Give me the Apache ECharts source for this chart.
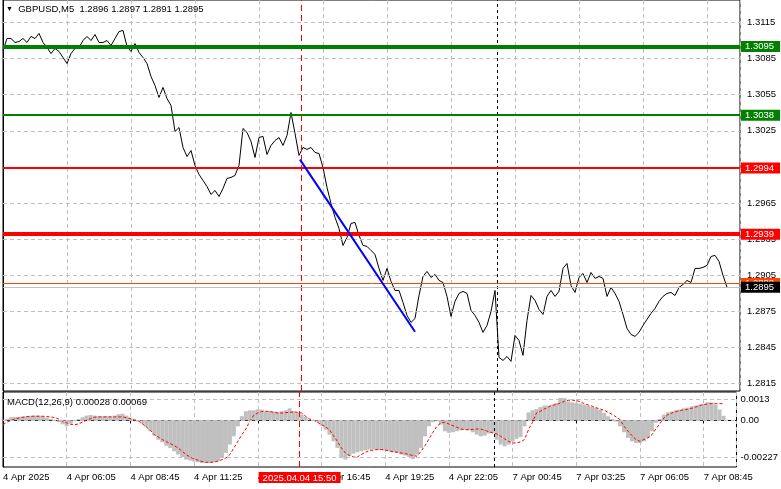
<!DOCTYPE html>
<html><head><meta charset="utf-8">
<script src="https://cdn.jsdelivr.net/npm/echarts@6/dist/echarts.min.js"></script>
<style>html,body{margin:0;padding:0;background:#fff}#c{width:781px;height:489px}</style>
</head><body><div id="c"></div>
<script>
const symbolTitle = 'GBPUSD,M5';
const ohlc = ['1.2896', '1.2897', '1.2891', '1.2895'];
const macdTitle = 'MACD(12,26,9)';
const macdLast = ['0.00028', '0.00069'];
const timeTickLabels = ['4 Apr 2025', '4 Apr 06:05', '4 Apr 08:45', '4 Apr 11:25', '4 Apr 14:05', '4 Apr 16:45',
  '4 Apr 19:25', '4 Apr 22:05', '7 Apr 00:45', '7 Apr 03:25', '7 Apr 06:05', '7 Apr 08:45'];
const barsPerTick = 32;
const barsPerSample = 2;
const closes = [
1.30917,1.31017,1.31017,1.30984,1.30992,1.31017,1.30984,1.31034,1.31017,1.31059,
1.30984,1.30942,1.30892,1.30934,1.30909,1.30859,1.30809,1.30892,1.30934,1.30942,
1.31000,1.31034,1.31000,1.31050,1.30984,1.30984,1.31000,1.30959,1.31017,1.31075,
1.31084,1.30951,1.30909,1.30975,1.30901,1.30859,1.30809,1.30701,1.30626,1.30527,
1.30610,1.30518,1.30460,1.30244,1.30277,1.30111,1.30036,1.30086,1.29962,1.29887,
1.29837,1.29787,1.29721,1.29754,1.29704,1.29770,1.29854,1.29862,1.29879,1.29962,
1.30269,1.30236,1.30161,1.30028,1.30194,1.30203,1.30053,1.30128,1.30169,1.30194,
1.30128,1.30211,1.30402,1.30228,1.30045,1.30111,1.30095,1.30111,1.30070,1.30061,
1.29945,1.29779,1.29646,1.29530,1.29438,1.29297,1.29363,1.29480,1.29488,1.29380,
1.29297,1.29289,1.29255,1.29222,1.29106,1.29006,1.29106,1.28998,1.28923,1.28923,
1.28823,1.28715,1.28657,1.28690,1.28881,1.29039,1.29081,1.29031,1.29056,1.29006,
1.28989,1.28873,1.28707,1.28832,1.28898,1.28915,1.28898,1.28757,1.28715,1.28657,
1.28574,1.28632,1.28748,1.28923,1.28366,1.28341,1.28374,1.28333,1.28549,1.28507,
1.28383,1.28674,1.28881,1.28840,1.28765,1.28723,1.28873,1.28923,1.28873,1.28915,
1.29106,1.29147,1.28964,1.28906,1.29031,1.29064,1.28989,1.29072,1.29023,1.29039,
1.29023,1.28873,1.28948,1.28898,1.28832,1.28723,1.28607,1.28557,1.28541,1.28574,
1.28632,1.28682,1.28732,1.28773,1.28832,1.28873,1.28898,1.28906,1.28881,1.28948,
1.28973,1.29006,1.28989,1.29106,1.29106,1.29114,1.29131,1.29205,1.29214,1.29164,
1.29048,1.28950];
const macdHist = [
0.00004,0.00008,0.00019,0.00021,0.00021,0.00023,0.00025,0.00027,0.00029,0.00029,
0.00025,0.00016,0.00008,0,-0.00012,-0.00025,-0.00037,-0.00021,-0.00006,0.00008,
0.00019,0.00029,0.00033,0.00029,0.00025,0.00025,0.00025,0.00025,0.00029,0.00037,
0.00041,0.00029,0.00014,0.00004,-0.00008,-0.00021,-0.00041,-0.00068,-0.00095,-0.0012,
-0.00136,-0.00157,-0.00171,-0.00192,-0.00212,-0.00227,-0.00243,-0.00249,-0.00255,-0.0026,
-0.00264,-0.00264,-0.00264,-0.0026,-0.00253,-0.00233,-0.00202,-0.0015,-0.00099,-0.00037,
0.00025,0.00056,0.00062,0.00062,0.00068,0.00066,0.00056,0.00058,0.00054,0.00052,
0.00056,0.00062,0.00074,0.00056,0.00045,0.00035,0.00021,0.00004,-0.00004,-0.00012,
-0.00033,-0.00058,-0.00089,-0.0013,-0.00171,-0.00233,-0.00243,-0.00222,-0.00206,-0.00198,
-0.00192,-0.00185,-0.00181,-0.00181,-0.00185,-0.00185,-0.00187,-0.00192,-0.00198,-0.00202,
-0.00212,-0.00218,-0.00227,-0.00239,-0.00212,-0.00171,-0.00099,-0.00037,-0.00012,-0.00006,
-0.00027,-0.00068,-0.00078,-0.00074,-0.00068,-0.00062,-0.00058,-0.00062,-0.00074,-0.00089,
-0.00099,-0.00095,-0.00082,-0.00078,-0.0012,-0.0015,-0.00161,-0.0015,-0.0013,-0.00115,
-0.00103,-0.00037,0.00049,0.00062,0.0007,0.00082,0.00091,0.00091,0.00097,0.00107,
0.00138,0.00138,0.00117,0.00111,0.00107,0.00103,0.00097,0.00091,0.00082,0.00076,
0.00066,0.00045,0.00025,0.00008,-0.00008,-0.00037,-0.00074,-0.00109,-0.0013,-0.0014,
-0.0014,-0.0013,-0.00109,-0.00068,-0.00016,0.00008,0.00035,0.00049,0.00054,0.00062,
0.00066,0.00074,0.00078,0.00087,0.00091,0.00097,0.00103,0.00111,0.00111,0.00097,
0.00066,0.00028];
const macdSignal = [
-0.00027,-0.00012,0,0.00008,0.00014,0.00019,0.00023,0.00025,0.00025,0.00025,
0.00025,0.00023,0.00021,0.00016,0.00008,-0.00006,-0.00016,-0.00025,-0.00027,-0.00023,
-0.0001,0,0.0001,0.00019,0.00021,0.00021,0.00021,0.00021,0.00021,0.00021,
0.00021,0.00016,0.0001,0.00002,-0.00004,-0.00021,-0.00041,-0.00062,-0.00089,-0.00103,
-0.00119,-0.00132,-0.00144,-0.00157,-0.00171,-0.00192,-0.00212,-0.00227,-0.00239,-0.00247,
-0.00255,-0.0026,-0.0026,-0.00258,-0.00253,-0.00243,-0.00233,-0.00212,-0.00171,-0.0013,
-0.00089,-0.00054,-0.00006,0.00031,0.00045,0.00054,0.00056,0.00054,0.00049,0.00045,
0.00045,0.00047,0.00049,0.00052,0.00049,0.00045,0.00025,0.00008,0,-0.00012,
-0.00027,-0.00041,-0.00058,-0.00095,-0.0013,-0.00171,-0.00202,-0.00218,-0.00227,-0.00227,
-0.00212,-0.00198,-0.00187,-0.00185,-0.00181,-0.00181,-0.00183,-0.0019,-0.00194,-0.00198,
-0.00202,-0.00206,-0.00212,-0.00218,-0.00222,-0.00192,-0.00157,-0.00115,-0.00074,-0.00037,
-0.00016,-0.00012,-0.00023,-0.00033,-0.00043,-0.00054,-0.00058,-0.00058,-0.00056,-0.00054,
-0.00054,-0.00062,-0.0007,-0.00078,-0.00084,-0.00099,-0.00115,-0.0013,-0.0014,-0.0014,
-0.00134,-0.00119,-0.00058,-0.00012,0.00045,0.00056,0.0007,0.00082,0.00093,0.00097,
0.00107,0.00117,0.00124,0.00124,0.00122,0.00115,0.00103,0.00095,0.00087,0.00078,
0.0007,0.00062,0.00049,0.00037,0.00021,0.00004,-0.00037,-0.00068,-0.00095,-0.00119,
-0.0013,-0.00119,-0.00109,-0.00089,-0.00054,-0.00021,0.00014,0.00035,0.00045,0.00054,
0.0006,0.00064,0.00068,0.00074,0.00082,0.00091,0.00097,0.00101,0.00103,0.00103,
0.00103,0.00103];
const priceTicks = [1.2815, 1.2845, 1.2875, 1.2905, 1.2935, 1.2965, 1.2995, 1.3025, 1.3055, 1.3085, 1.3115];
const macdTicks = [0.0013, 0, -0.00227];
const macdTickLabels = ['0.0013', '0.00', '-0.00227'];
const supportGreen = [1.3095, 1.3038];
const levelsRed = [1.2994, 1.2939];
const askPrice = 1.2898;
const bidPrice = 1.2895;
const trendFrom = [148.5, 1.3001];
const trendTo = [206, 1.2858];
const crosshairBar = 149;
const crosshairText = '2025.04.04 15:50';
const separatorBar = 247;

const FONT = 'Liberation Sans, Arial, sans-serif';
const FS = 9.5;
const pricePts = closes.map((v, k) => [k * barsPerSample, v]);
const histPts = macdHist.map((v, k) => [k * barsPerSample, v]);
const sigPts = macdSignal.map((v, k) => [k * barsPerSample, v]);
const X_MAX = 368.5;
const GRID_DASH = [4, 3];

function boxLabel(text, bg) {
  return { show: true, position: 'end', distance: 1, formatter: text, color: '#fff', backgroundColor: bg,
    padding: [1, 6, 0, 4], fontSize: FS, lineHeight: 10, fontFamily: FONT };
}
function hLevel(v, color, width) {
  return { yAxis: v, lineStyle: { color: color, width: width, type: 'solid' }, label: boxLabel(v.toFixed(4), color) };
}

const xCommon = {
  type: 'value', min: 0, max: X_MAX, interval: barsPerTick,
  splitLine: { show: true, lineStyle: { color: '#c0c0c0', type: GRID_DASH, width: 1 } }
};
const mlBase = { silent: true, animation: false, symbol: ['none', 'none'], precision: 6 };

const option = {
  animation: false,
  backgroundColor: '#fff',
  title: [
    { text: '{t|▼}  ' + symbolTitle + '  ' + ohlc.join(' '), left: 6, top: 4, padding: 0,
      textStyle: { fontSize: FS, fontWeight: 'normal', color: '#000', fontFamily: FONT,
        rich: { t: { fontSize: 7, color: '#000' } } } },
    { text: macdTitle + ' ' + macdLast.join(' '), left: 7, top: 397, padding: 0,
      textStyle: { fontSize: FS, fontWeight: 'normal', color: '#000', fontFamily: FONT } }
  ],
  grid: [
    { left: 3, right: 41, top: 0, height: 391, show: true, borderColor: '#000', borderWidth: 1, backgroundColor: 'transparent' },
    { left: 3, right: 41, top: 392, height: 75, show: true, borderColor: '#000', borderWidth: 1, backgroundColor: 'transparent' }
  ],
  xAxis: [
    Object.assign({}, xCommon, { gridIndex: 0, axisLine: { show: false }, axisTick: { show: false }, axisLabel: { show: false } }),
    Object.assign({}, xCommon, { gridIndex: 1,
      axisLine: { show: true, lineStyle: { color: '#000' } },
      axisTick: { show: true, length: 3, lineStyle: { color: '#000' } },
      axisLabel: { show: true, margin: 5, align: 'left', fontSize: FS, color: '#000', fontFamily: FONT,
        showMaxLabel: false,
        formatter: v => (v % barsPerTick === 0 && timeTickLabels[v / barsPerTick]) ? timeTickLabels[v / barsPerTick] : '' } })
  ],
  yAxis: [
    { type: 'value', gridIndex: 0, position: 'right', min: 1.28087, max: 1.31337, scale: true,
      axisLine: { show: true, lineStyle: { color: '#000' } },
      axisTick: { show: true, length: 3, customValues: priceTicks, lineStyle: { color: '#000' } },
      axisLabel: { show: true, margin: 7, customValues: priceTicks, formatter: v => v.toFixed(4),
        fontSize: FS, color: '#000', fontFamily: FONT },
      splitLine: { show: false } },
    { type: 'value', gridIndex: 1, position: 'right', min: -0.00289, max: 0.00175,
      axisLine: { show: true, lineStyle: { color: '#000' } },
      axisTick: { show: true, length: 3, customValues: macdTicks, lineStyle: { color: '#000' } },
      axisLabel: { show: true, margin: 4, customValues: macdTicks,
        formatter: v => { const k = macdTicks.findIndex(t => Math.abs(t - v) < 1e-9); return k >= 0 ? macdTickLabels[k] : ''; },
        fontSize: FS, color: '#000', fontFamily: FONT },
      splitLine: { show: false } }
  ],
  series: [
    { type: 'line', name: 'grid-main', xAxisIndex: 0, yAxisIndex: 0, data: [], silent: true, z: 1,
      markLine: Object.assign({}, mlBase, { label: { show: false },
        lineStyle: { color: '#c0c0c0', type: GRID_DASH, width: 1 },
        data: priceTicks.map(v => ({ yAxis: v })) }) },
    { type: 'line', name: 'grid-macd', xAxisIndex: 1, yAxisIndex: 1, data: [], silent: true, z: 1,
      markLine: Object.assign({}, mlBase, { label: { show: false },
        lineStyle: { color: '#c0c0c0', type: GRID_DASH, width: 1 },
        data: macdTicks.map(v => ({ yAxis: v })) }) },
    { type: 'line', name: symbolTitle, xAxisIndex: 0, yAxisIndex: 0, data: pricePts, showSymbol: false, silent: true, z: 3,
      lineStyle: { color: '#000', width: 1 },
      markLine: Object.assign({}, mlBase, {
        data: [
          { xAxis: crosshairBar, lineStyle: { color: '#ff0000', type: [6, 4], width: 1 }, label: { show: false } },
          { xAxis: separatorBar, lineStyle: { color: '#000', type: [3, 3], width: 1 }, label: { show: false } },
          hLevel(supportGreen[0], '#008000', 4),
          hLevel(supportGreen[1], '#008000', 2),
          hLevel(levelsRed[0], '#ff0000', 2),
          hLevel(levelsRed[1], '#ff0000', 4),
          { yAxis: askPrice, lineStyle: { color: '#ff4500', width: 1, type: 'solid' }, label: boxLabel(askPrice.toFixed(4), '#ff4500') },
          { yAxis: bidPrice, lineStyle: { color: '#c0c0c0', width: 1, type: 'solid' }, label: boxLabel(bidPrice.toFixed(4), '#000') },
          [ { coord: trendFrom, lineStyle: { color: '#0000ff', width: 2, type: 'solid' }, label: { show: false } }, { coord: trendTo } ]
        ] }) },
    { type: 'bar', name: 'MACD', xAxisIndex: 1, yAxisIndex: 1, data: histPts, barWidth: 4, silent: true, z: 2,
      itemStyle: { color: '#c0c0c0' } },
    { type: 'line', name: 'Signal', xAxisIndex: 1, yAxisIndex: 1, data: sigPts, showSymbol: false, silent: true, z: 3,
      lineStyle: { color: '#ff0000', width: 1, type: [3, 2] },
      markLine: Object.assign({}, mlBase, {
        data: [
          { xAxis: crosshairBar, lineStyle: { color: '#ff0000', type: [6, 4], width: 1 },
            label: { show: true, position: 'start', distance: 5, formatter: crosshairText, color: '#fff',
              backgroundColor: '#ff0000', padding: [1, 4, 0, 4], fontSize: FS, lineHeight: 10, fontFamily: FONT } },
          { xAxis: separatorBar, lineStyle: { color: '#000', type: [3, 3], width: 1 }, label: { show: false } }
        ] }) }
  ]
};
const chart = echarts.init(document.getElementById('c'));
chart.setOption(option);
</script>
</body></html>
